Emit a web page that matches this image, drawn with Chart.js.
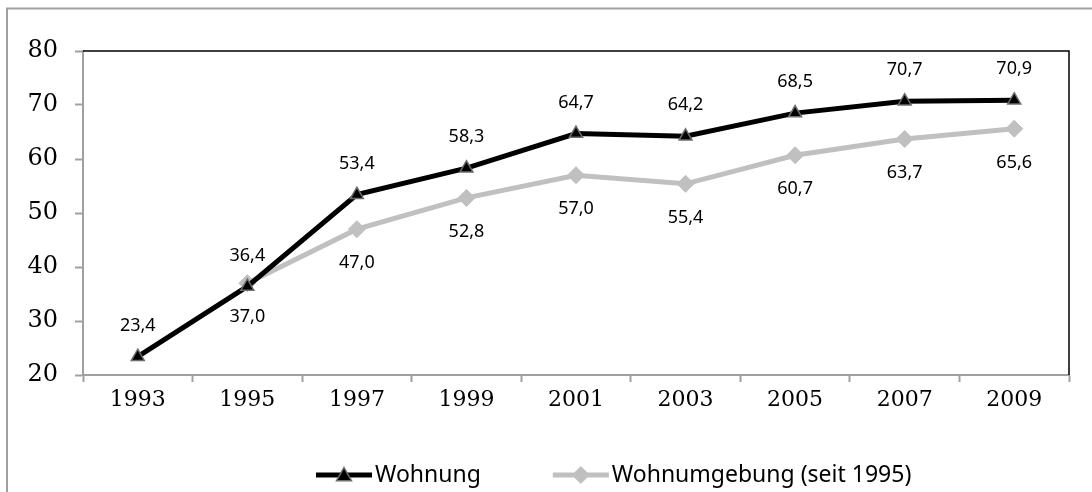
<!DOCTYPE html>
<html>
<head>
<meta charset="utf-8">
<script src="https://cdn.jsdelivr.net/npm/chart.js@4"></script>
<style>
  html, body { margin: 0; padding: 0; background: #fff; }
  #wrap { position: relative; width: 1092px; height: 492px; }
</style>
</head>
<body>
<div id="wrap"><canvas id="c"></canvas></div>
<script>
// ---- data ----
var years = ['1993', '1995', '1997', '1999', '2001', '2003', '2005', '2007', '2009'];
var wohnung = [23.4, 36.4, 53.4, 58.3, 64.7, 64.2, 68.5, 70.7, 70.9];
var umgebung = [null, 37.0, 47.0, 52.8, 57.0, 55.4, 60.7, 63.7, 65.6];
var seriesNames = ['Wohnung', 'Wohnumgebung (seit 1995)'];
var yTicks = { min: 20, max: 80, step: 10 };

var AXIS = '#a0a0a0', GREY = '#c0c0c0';
var SERIF = '"DejaVu Serif", serif', SANS = '"Noto Sans", "Open Sans", sans-serif';

function fmt(v) { return v.toFixed(1).replace('.', ','); }

// frame + plot border (Excel look)
var framePlug = {
  id: 'frame',
  beforeDraw: function (ch) {
    var c = ch.ctx; c.save();
    c.strokeStyle = AXIS; c.lineWidth = 2;
    c.beginPath(); c.moveTo(7, 492); c.lineTo(7, 8.5); c.lineTo(1092, 8.5); c.stroke();
    c.restore();
  },
  afterDatasetsDraw: function (ch) {
    var a = ch.chartArea, c = ch.ctx; c.save();
    c.strokeStyle = '#000'; c.lineWidth = 1.5;
    c.beginPath(); c.moveTo(a.left, a.top); c.lineTo(a.right, a.top); c.lineTo(a.right, a.bottom); c.stroke();
    c.restore();
  }
};

// value labels: black series above, grey series below
var labelPlug = {
  id: 'vals',
  afterDatasetsDraw: function (ch) {
    var c = ch.ctx; c.save();
    c.font = '18px ' + SANS; c.fillStyle = '#000'; c.textAlign = 'center'; c.textBaseline = 'middle';
    ch.data.datasets.forEach(function (ds, di) {
      var m = ch.getDatasetMeta(di);
      m.data.forEach(function (pt, i) {
        var v = ds.data[i]; if (v == null) return;
        c.fillText(fmt(v), pt.x, di === 0 ? pt.y - 31 : pt.y + 34);
      });
    });
    c.restore();
  }
};

// legend with line + marker sample
var legendPlug = {
  id: 'leg',
  afterDraw: function (ch) {
    var c = ch.ctx; c.save();
    var x = 316, y = 475, lineLen = 56;
    c.font = '23px ' + SANS; c.textBaseline = 'middle';
    ch.data.datasets.forEach(function (ds) {
      var mx = x + lineLen / 2, r = ds.pointRadius;
      c.strokeStyle = ds.borderColor; c.lineWidth = ds.borderWidth;
      c.beginPath(); c.moveTo(x, y); c.lineTo(x + lineLen, y); c.stroke();
      c.fillStyle = ds.pointBackgroundColor; c.strokeStyle = ds.pointBorderColor; c.lineWidth = ds.pointBorderWidth;
      c.beginPath();
      if (ds.pointStyle === 'triangle') {
        c.moveTo(mx, y - r); c.lineTo(mx + r, y + r * 0.75); c.lineTo(mx - r, y + r * 0.75); c.closePath();
      } else {
        c.moveTo(mx, y - r); c.lineTo(mx + r, y); c.lineTo(mx, y + r); c.lineTo(mx - r, y); c.closePath();
      }
      c.fill(); c.stroke();
      c.fillStyle = '#000';
      c.fillText(ds.label, x + lineLen + 3, y);
      x += lineLen + 3 + c.measureText(ds.label).width + 72;
    });
    c.restore();
  }
};

new Chart(document.getElementById('c'), {
  type: 'line',
  data: {
    labels: years,
    datasets: [
      { label: seriesNames[0], data: wohnung, borderColor: '#000', borderWidth: 5, pointStyle: 'triangle',
        pointRadius: 7.5, pointBackgroundColor: '#000', pointBorderColor: '#6e6e6e', pointBorderWidth: 1.5, tension: 0 },
      { label: seriesNames[1], data: umgebung, borderColor: GREY, borderWidth: 5, pointStyle: 'rectRot',
        pointRadius: 8.5, pointBackgroundColor: GREY, pointBorderColor: GREY, pointBorderWidth: 1, tension: 0 }
    ]
  },
  options: {
    responsive: true, maintainAspectRatio: false, animation: false,
    layout: { padding: { top: 51, right: 23, left: 0, bottom: 70 } },
    plugins: { legend: { display: false }, tooltip: { enabled: false } },
    scales: {
      x: {
        offset: true,
        grid: { offset: true, drawOnChartArea: false, drawTicks: true, tickLength: 7, tickColor: AXIS, tickWidth: 2 },
        border: { color: AXIS, width: 2 },
        ticks: { color: '#000', font: { family: SERIF, size: 22 }, padding: 5, maxRotation: 0 },
        afterFit: function (s) { s.height = 47; }
      },
      y: {
        min: yTicks.min, max: yTicks.max,
        grid: { drawOnChartArea: false, drawTicks: true, tickLength: 8, tickColor: AXIS, tickWidth: 2 },
        border: { color: AXIS, width: 2 },
        ticks: { stepSize: yTicks.step, color: '#000', font: { family: SERIF, size: 24 }, padding: 17 },
        afterFit: function (s) { s.width = 83; }
      }
    }
  },
  plugins: [framePlug, labelPlug, legendPlug]
});
</script>
</body>
</html>
